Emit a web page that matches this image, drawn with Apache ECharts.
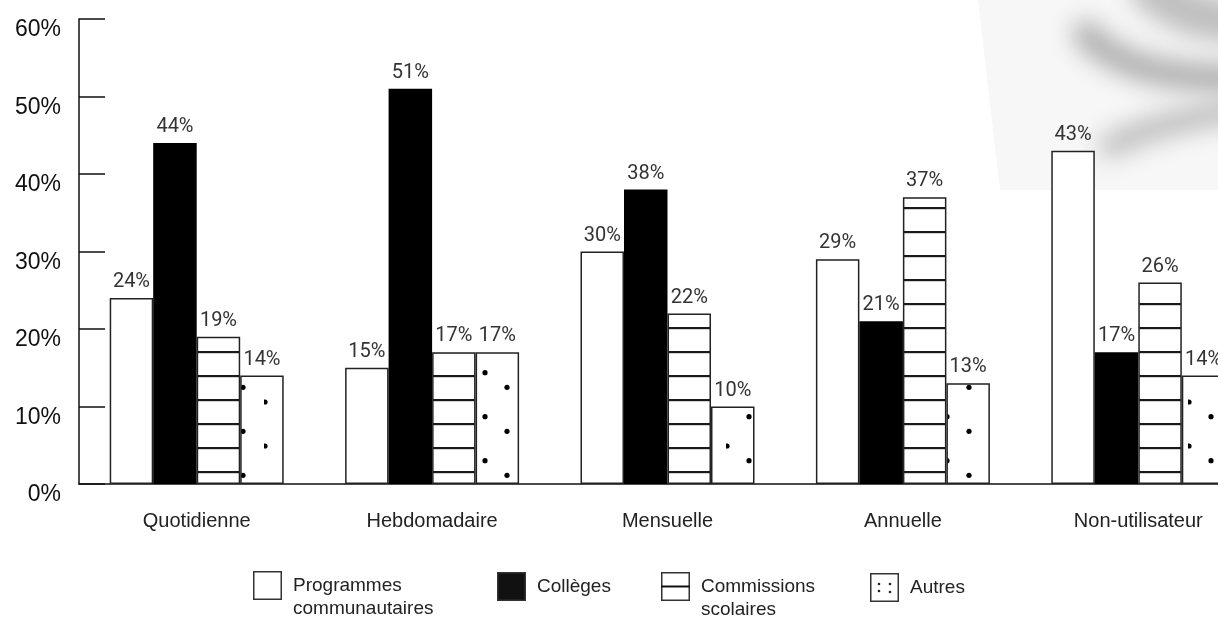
<!DOCTYPE html>
<html>
<head>
<meta charset="utf-8">
<script src="https://cdn.jsdelivr.net/npm/echarts/dist/echarts.min.js"></script>
<style>
  html, body { margin: 0; padding: 0; background: #fff; }
  #main { width: 1218px; height: 625px; }
</style>
</head>
<body>
<div id="main"></div>
<script>
// data
const categories = ['Quotidienne', 'Hebdomadaire', 'Mensuelle', 'Annuelle', 'Non-utilisateur']
const programmes = [24, 15, 30, 29, 43]
const colleges = [44, 51, 38, 21, 17]
const commissions = [19, 17, 22, 37, 26]
const autres = [14, 17, 10, 13, 14]
const seriesNames = ['Programmes communautaires', 'Collèges', 'Commissions scolaires', 'Autres']

const labelFont = 'Roboto, "DejaVu Sans Condensed", sans-serif'
const sans = '"Liberation Sans", Arial, sans-serif'

function makeCanvas(w, h) {
  const c = document.createElement('canvas')
  c.width = w
  c.height = h
  return c
}

// horizontal stripes fill
function stripePattern() {
  const c = makeCanvas(12, 24)
  const ctx = c.getContext('2d')
  ctx.fillStyle = '#fff'
  ctx.fillRect(0, 0, 12, 24)
  ctx.fillStyle = '#1a1a1a'
  ctx.fillRect(0, 15, 12, 2.2)
  return c
}

// sparse dots fill
function dotPattern() {
  const c = makeCanvas(66, 44)
  const ctx = c.getContext('2d')
  ctx.fillStyle = '#fff'
  ctx.fillRect(0, 0, 66, 44)
  ctx.fillStyle = '#000'
  const pts = [[1, 6], [23, 20.7], [45, 35.3]]
  pts.forEach(([x, y]) => {
    ctx.beginPath()
    ctx.arc(x, y, 2.6, 0, Math.PI * 2)
    ctx.fill()
  })
  return c
}

function legendIcon(kind) {
  const c = makeCanvas(29, 29)
  const ctx = c.getContext('2d')
  ctx.fillStyle = kind === 'black' ? '#111' : '#fff'
  ctx.fillRect(0.75, 0.75, 27.5, 27.5)
  ctx.strokeStyle = '#333'
  ctx.lineWidth = 1.5
  ctx.strokeRect(0.75, 0.75, 27.5, 27.5)
  if (kind === 'stripe') {
    ctx.fillStyle = '#111'
    ctx.fillRect(0, 13.5, 29, 2)
  }
  if (kind === 'dots') {
    ctx.fillStyle = '#222'
    ;[[9, 11], [9, 18], [20, 11], [20, 19]].forEach(([x, y]) => {
      ctx.beginPath()
      ctx.arc(x, y, 1.3, 0, Math.PI * 2)
      ctx.fill()
    })
  }
  return 'image://' + c.toDataURL()
}

// soft grey decoration in the top right corner
function decoration() {
  const c = makeCanvas(240, 200)
  const ctx = c.getContext('2d')
  const panel = () => {
    ctx.beginPath()
    ctx.moveTo(0, 0)
    ctx.lineTo(240, 0)
    ctx.lineTo(240, 190)
    ctx.lineTo(22, 190)
    ctx.closePath()
  }
  ctx.fillStyle = '#f7f7f7'
  panel()
  ctx.fill()
  ctx.save()
  panel()
  ctx.clip()
  ctx.filter = 'blur(12px)'
  ctx.lineCap = 'round'
  ctx.strokeStyle = 'rgb(170,170,170)'
  ctx.lineWidth = 26
  ctx.beginPath()
  ctx.moveTo(108, 34)
  ctx.quadraticCurveTo(150, 80, 260, 78)
  ctx.stroke()
  ctx.strokeStyle = 'rgb(190,190,190)'
  ctx.lineWidth = 44
  ctx.beginPath()
  ctx.moveTo(175, -10)
  ctx.quadraticCurveTo(215, 22, 260, 20)
  ctx.stroke()
  ctx.strokeStyle = 'rgb(185,185,185)'
  ctx.lineWidth = 22
  ctx.beginPath()
  ctx.moveTo(132, 146)
  ctx.quadraticCurveTo(180, 122, 260, 110)
  ctx.stroke()
  ctx.restore()
  return c
}

const fills = ['#fff', '#000', { image: stripePattern(), repeat: 'repeat' }, { image: dotPattern(), repeat: 'repeat' }]
const values = [programmes, colleges, commissions, autres]
const icons = [legendIcon('white'), legendIcon('black'), legendIcon('stripe'), legendIcon('dots')]

// legend item positions; two-line names get an empty first line so the
// first real line sits level with the icon
const legendLeft = [253, 497, 661, 870]
const legendTop = [551, 572, 552, 573]

const legends = seriesNames.map((name, i) => ({
  data: [{ name: name, icon: icons[i] }],
  left: legendLeft[i],
  top: legendTop[i],
  padding: 0,
  itemWidth: 29,
  itemHeight: 29,
  selectedMode: false,
  formatter: (n) => (n.indexOf(' ') > 0 ? '\n' + n.replace(' ', '\n') : n),
  textStyle: {
    fontFamily: sans,
    fontSize: 19,
    lineHeight: 23,
    color: '#222',
    padding: [0, 0, 0, 6]
  }
}))

const option = {
  animation: false,
  backgroundColor: '#fff',
  graphic: [
    { type: 'image', x: 978, y: 0, z: -10, silent: true, style: { image: decoration(), width: 240, height: 200 } }
  ],
  legend: legends,
  grid: {
    left: 79,
    right: -38,
    top: 19,
    bottom: 141,
    outerBoundsMode: 'none'
  },
  xAxis: {
    type: 'category',
    data: categories,
    axisLine: { lineStyle: { color: '#111', width: 1.5 } },
    axisTick: { show: false },
    axisLabel: { interval: 0, fontFamily: sans, fontSize: 20, color: '#222', margin: 27 }
  },
  yAxis: {
    type: 'value',
    min: 0,
    max: 60,
    interval: 10,
    axisLine: { show: true, lineStyle: { color: '#111', width: 1.5 } },
    axisTick: { show: true, inside: true, length: 26, lineStyle: { color: '#111', width: 1.5 } },
    splitLine: { show: false },
    axisLabel: {
      formatter: '{value}%',
      fontFamily: sans,
      fontSize: 23,
      color: '#111',
      margin: 18,
      verticalAlign: 'top',
      lineHeight: 22
    }
  },
  series: seriesNames.map((name, i) => ({
    name: name,
    type: 'bar',
    barWidth: 43.5,
    barGap: '0%',
    data: values[i],
    itemStyle: {
      color: fills[i],
      borderColor: i === 1 ? '#000' : '#222',
      borderWidth: 1.5
    },
    label: {
      show: true,
      position: 'top',
      distance: 6,
      formatter: '{c}%',
      fontFamily: labelFont,
      fontSize: 20,
      color: '#333'
    }
  }))
}

const chart = echarts.init(document.getElementById('main'))
chart.setOption(option)
</script>
</body>
</html>
